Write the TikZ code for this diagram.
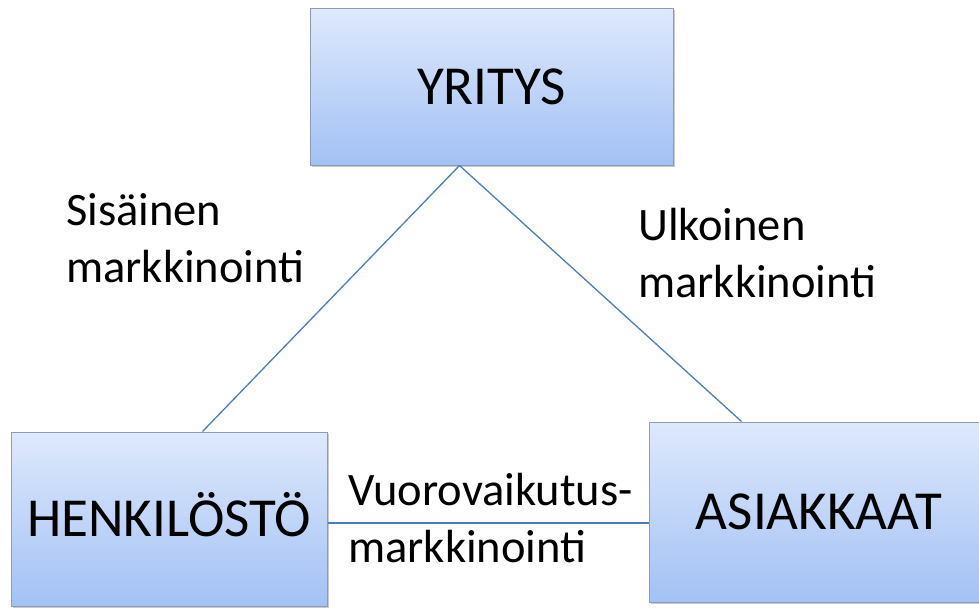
\documentclass[tikz,border=0pt]{standalone}
\usepackage{fontspec}
\setmainfont{Carlito}
\usetikzlibrary{shadows,calc}
\definecolor{boxtop}{RGB}{222,233,252}
\definecolor{boxbot}{RGB}{163,193,244}
\definecolor{boxline}{RGB}{140,156,184}
\definecolor{conn}{RGB}{74,126,187}
\tikzset{
  bigbox/.style={draw=boxline, line width=1pt, top color=boxtop, bottom color=boxbot,
    drop shadow={shadow xshift=1.5pt, shadow yshift=-1.5pt, opacity=0.35, fill=black!60},
    font=\fontsize{55}{62}\selectfont, text height=35.4pt, text depth=0pt, inner sep=0pt},
  conline/.style={draw=conn, line width=1.3pt},
  lbl/.style={font=\fontsize{46.5}{57}\selectfont, align=left, anchor=base west, inner sep=0pt}
}
\begin{document}
\begin{tikzpicture}[x=1pt,y=-1pt]
\useasboundingbox (0,0) rectangle (979,608);
\clip (0,0) rectangle (979,608);
\node[bigbox, minimum width=363pt, minimum height=157pt] (yr) at (491.5,86.5) {YRITYS};
\node[bigbox, minimum width=316pt, minimum height=174pt] (he) at (169,519) {HENKILÖSTÖ};
\node[bigbox, minimum width=340pt, minimum height=180pt] (as) at (819,512) {ASIAKKAAT};
\draw[conline] ([xshift=150pt]yr.south west) -- ([xshift=192pt]he.north west);
\draw[conline] ([xshift=150pt]yr.south west) -- ([xshift=93pt]as.north west);
\draw[conline] ([yshift=-4pt]he.east) -- ([yshift=-4pt]he.east -| as.west);
\node[lbl] (l1) at (66,282) {Sisäinen\\markkinointi};
\node[lbl] (l2) at (638,297) {Ulkoinen\\markkinointi};
\node[lbl] (l3) at (348,562) {Vuorovaikutus-\\markkinointi};
\end{tikzpicture}
\end{document}
